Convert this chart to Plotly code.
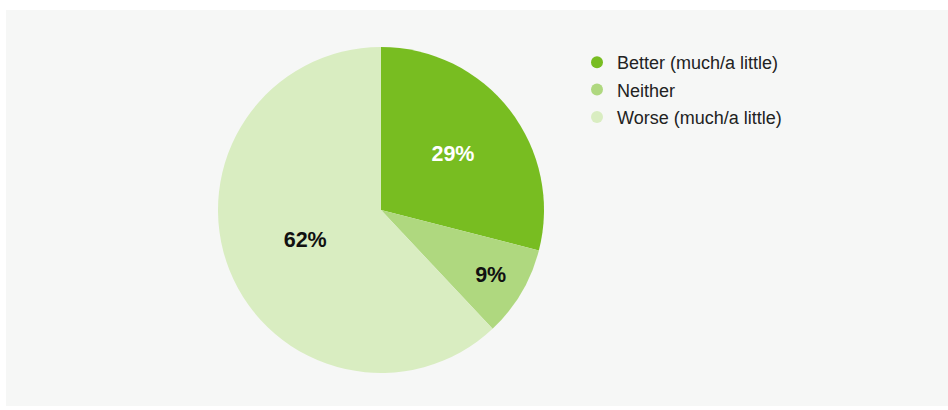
import plotly.graph_objects as go

categories = ["Better (much/a little)", "Neither", "Worse (much/a little)"]
values = [29, 9, 62]
colors = ["#78bd21", "#afd87f", "#d9edc1"]
text_colors = ["#ffffff", "#111111", "#111111"]

W, H = 948, 410
cx, cy, r = 381, 210, 163

fig = go.Figure()
fig.add_trace(go.Pie(
    labels=categories, values=values, sort=False, direction="clockwise", rotation=0,
    marker=dict(colors=colors, line=dict(width=0)),
    texttemplate="<b>%{percent:.0%}</b>", textposition="inside", insidetextorientation="horizontal",
    textfont=dict(family="Liberation Sans, Arial, sans-serif", size=21.5, color=text_colors),
    showlegend=False, hoverinfo="label+percent",
    domain=dict(x=[(cx - r) / W, (cx + r) / W], y=[1 - (cy + r) / H, 1 - (cy - r) / H]),
))
for c, col in zip(categories, colors):
    fig.add_trace(go.Scatter(x=[None], y=[None], mode="markers", name=c, legendgroup=c,
                             marker=dict(symbol="circle", size=12, color=col)))

fig.update_layout(
    width=W, height=H, margin=dict(l=0, r=0, t=0, b=0),
    paper_bgcolor="#ffffff", plot_bgcolor="rgba(0,0,0,0)",
    xaxis=dict(visible=False), yaxis=dict(visible=False),
    shapes=[dict(type="rect", xref="paper", yref="paper", x0=6 / W, x1=1, y0=1 - 406 / H, y1=1 - 10 / H,
                 fillcolor="#f6f7f6", line=dict(width=0), layer="below")],
    legend=dict(x=577 / W, y=1 - 44 / H, xanchor="left", yanchor="top", bgcolor="rgba(0,0,0,0)",
                font=dict(family="Liberation Sans, Arial, sans-serif", size=18, color="#222222"),
                tracegroupgap=1, itemwidth=30),
)
fig.write_html("out.html", post_script="document.body.style.margin='0';",
               config={"displayModeBar": False})
